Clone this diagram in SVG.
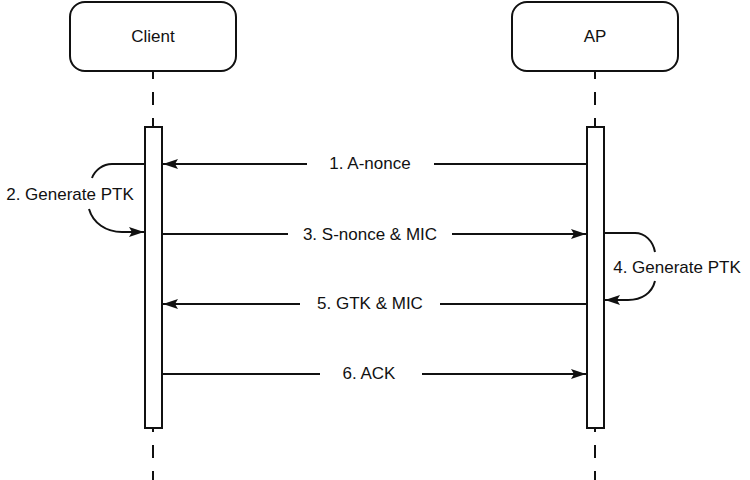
<svg xmlns="http://www.w3.org/2000/svg" width="750" height="480" viewBox="0 0 750 480">
<style>
text{font-family:"Liberation Sans",Arial,sans-serif;font-size:17px;fill:#111}
.box{fill:#fff;stroke:#111;stroke-width:2}
.life{stroke:#111;stroke-width:2;stroke-dasharray:13 13;fill:none}
.msg{stroke:#111;stroke-width:2;fill:none}
</style>
<defs>
<marker id="ah" markerUnits="userSpaceOnUse" markerWidth="16" markerHeight="12" refX="15" refY="5" orient="auto">
<path d="M0,0 L15,5 L0,10 L3,5 Z" fill="#111"/>
</marker>
</defs>
<g id="lifelines">
<line class="life" x1="153" y1="66" x2="153" y2="127"/>
<line class="life" x1="153" y1="419" x2="153" y2="480"/>
<line class="life" x1="595" y1="66" x2="595" y2="127"/>
<line class="life" x1="595" y1="419" x2="595" y2="480"/>
</g>
<g id="client">
<rect class="box" x="70" y="2" width="166" height="69" rx="15"/>
<text x="153" y="42" text-anchor="middle">Client</text>
</g>
<g id="ap">
<rect class="box" x="512" y="2" width="166" height="69" rx="15"/>
<text x="595" y="42" text-anchor="middle">AP</text>
</g>
<g id="client-activation">
<rect class="box" x="145" y="127" width="17" height="301"/>
</g>
<g id="ap-activation">
<rect class="box" x="587" y="127" width="17" height="301"/>
</g>
<g id="connectors">
<line class="msg" x1="587" y1="164" x2="434" y2="164"/>
<line class="msg" x1="307" y1="164" x2="163" y2="164" marker-end="url(#ah)"/>
<line class="msg" x1="162" y1="234" x2="288" y2="234"/>
<line class="msg" x1="452" y1="234" x2="586" y2="234" marker-end="url(#ah)"/>
<line class="msg" x1="587" y1="304" x2="440" y2="304"/>
<line class="msg" x1="300" y1="304" x2="163" y2="304" marker-end="url(#ah)"/>
<line class="msg" x1="162" y1="374" x2="320" y2="374"/>
<line class="msg" x1="422" y1="374" x2="586" y2="374" marker-end="url(#ah)"/>
<path class="msg" d="M145,164 H112 C103,164 95,170 92,178"/>
<path class="msg" d="M89,209 C93,223 106,232 122,232 H144" marker-end="url(#ah)"/>
<path class="msg" d="M604,233 H635 C645,233 653,241 655,252"/>
<path class="msg" d="M655,281 C652,293 642,300 628,300 H605" marker-end="url(#ah)"/>
</g>
<g id="labels">
<text x="370" y="169" text-anchor="middle">1. A-nonce</text>
<text x="70" y="200" text-anchor="middle">2. Generate PTK</text>
<text x="370" y="240" text-anchor="middle">3. S-nonce &amp; MIC</text>
<text x="677" y="273" text-anchor="middle">4. Generate PTK</text>
<text x="370" y="309" text-anchor="middle">5. GTK &amp; MIC</text>
<text x="369" y="379" text-anchor="middle">6. ACK</text>
</g>
</svg>
